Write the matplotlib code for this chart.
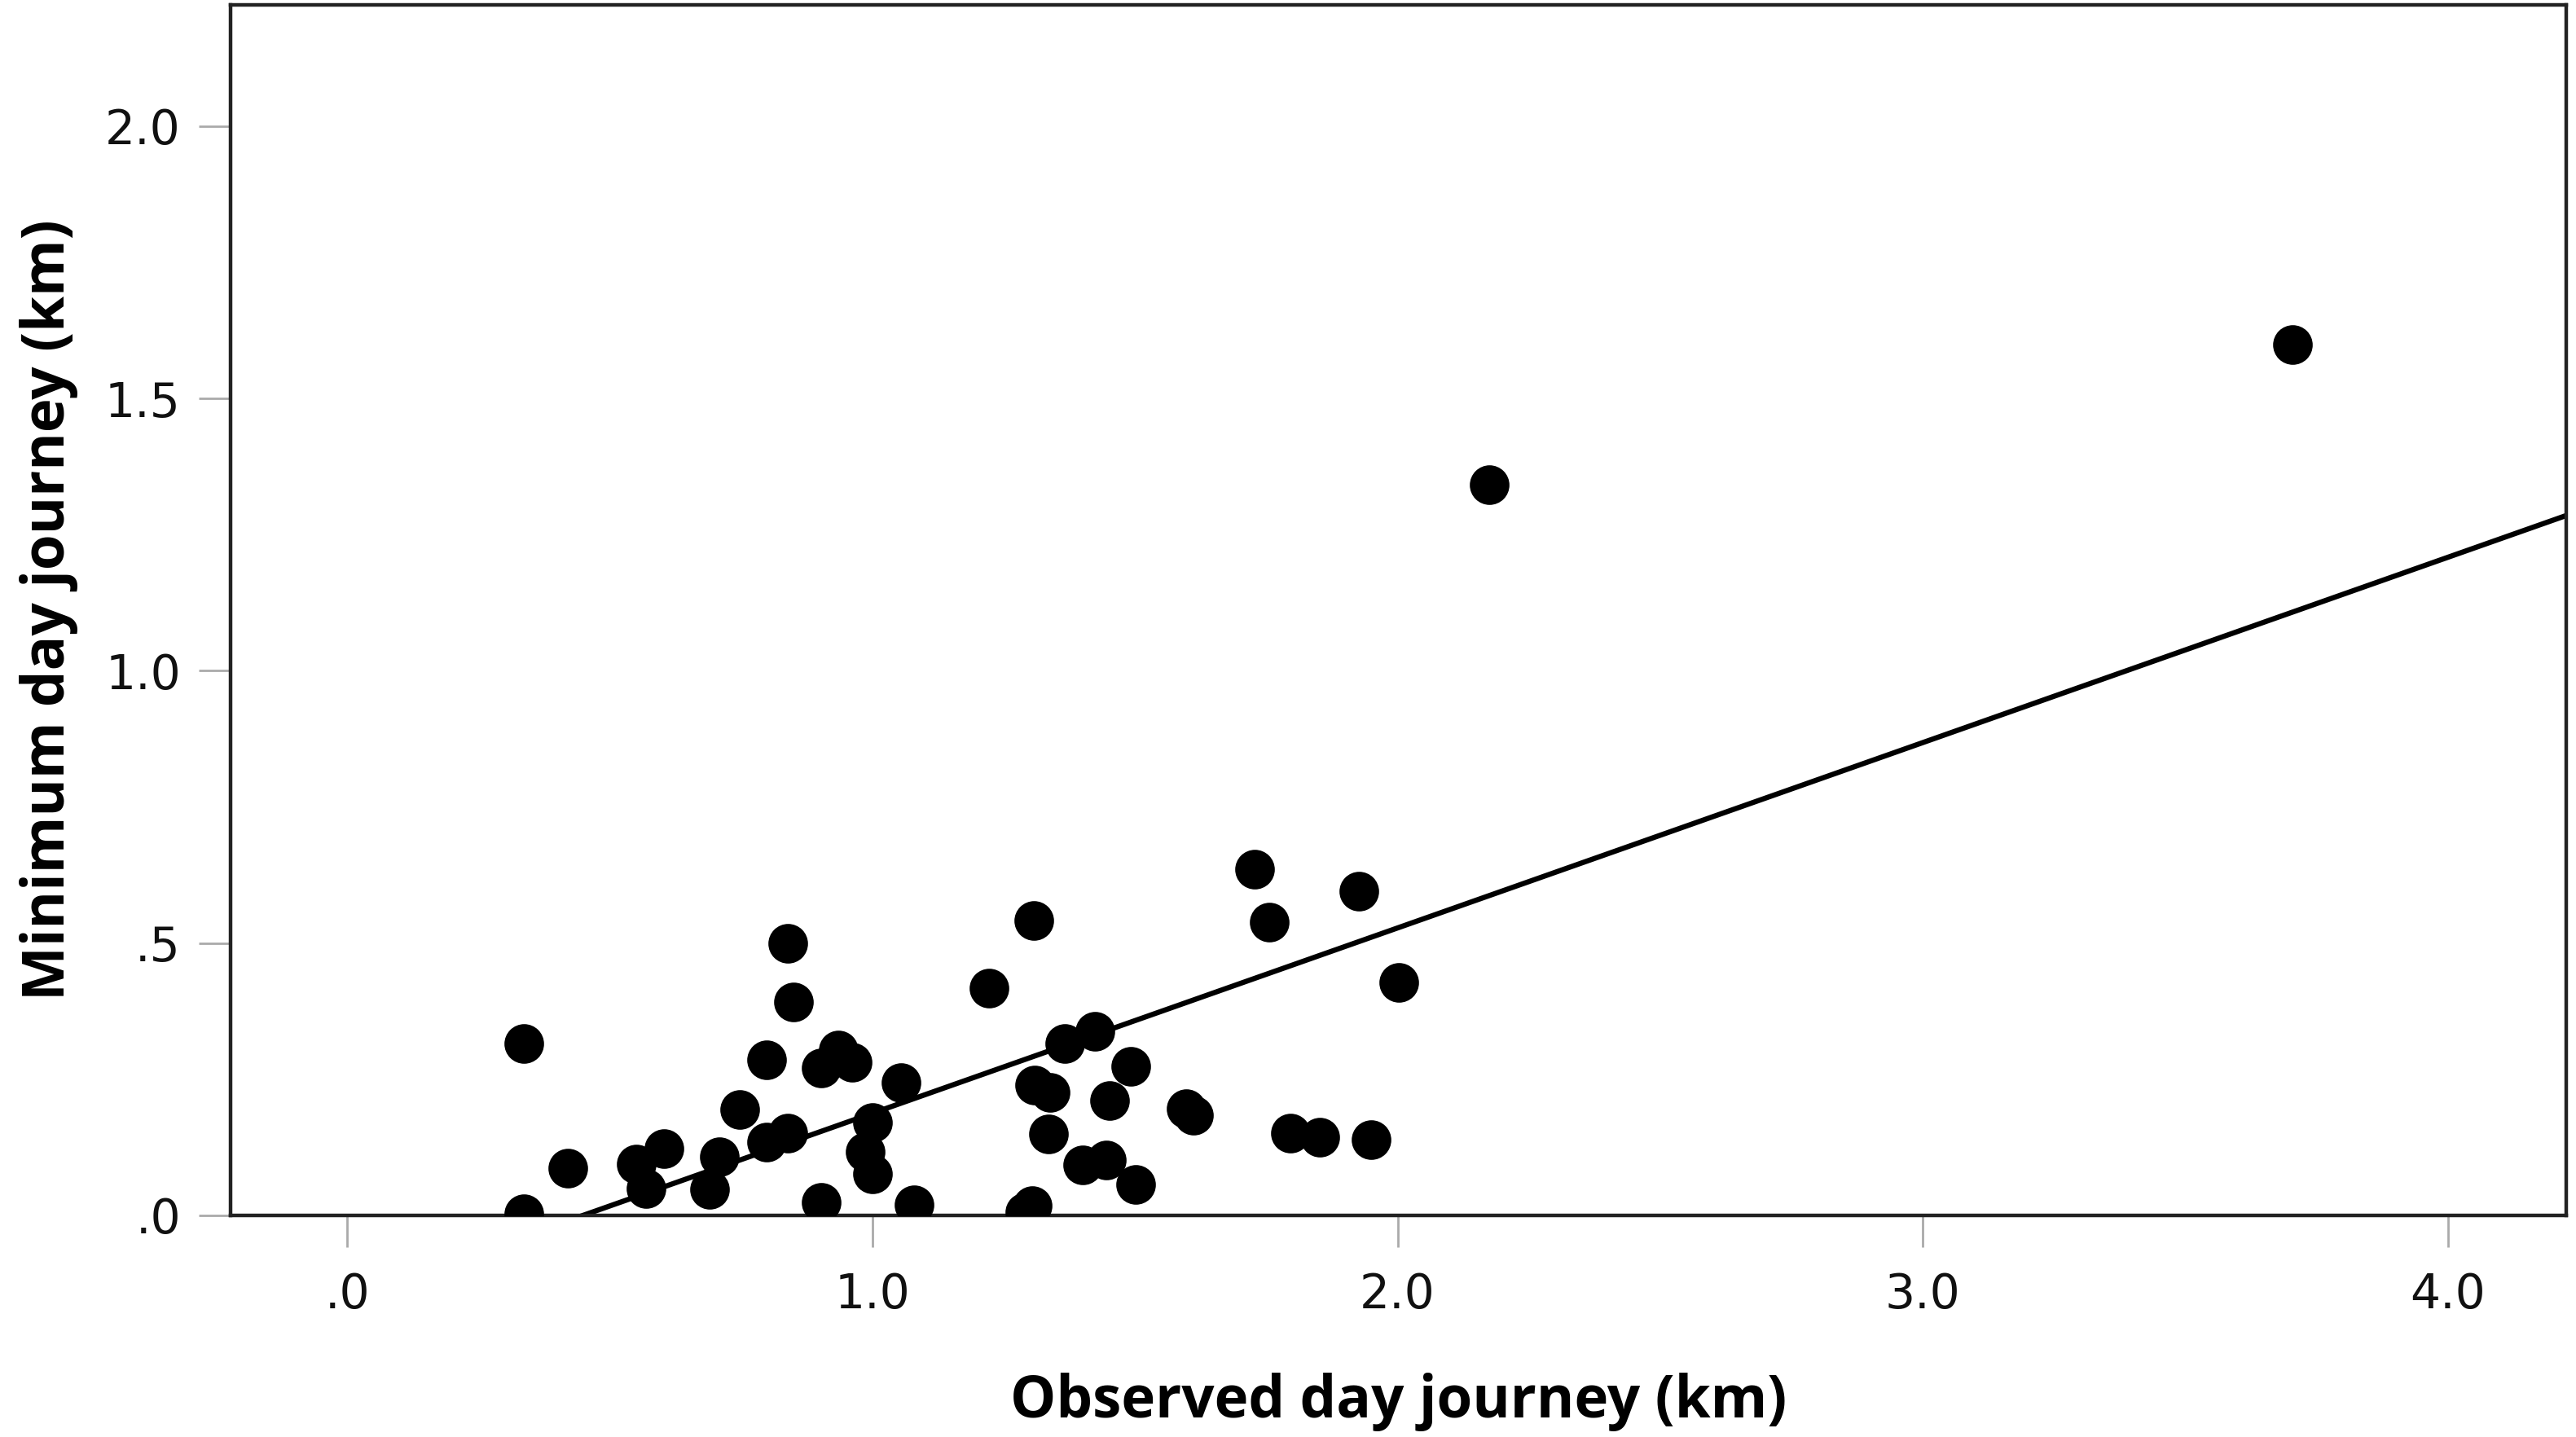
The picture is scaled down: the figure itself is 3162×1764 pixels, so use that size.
import matplotlib
matplotlib.use("Agg")
import matplotlib.pyplot as plt
import numpy as np

# Data
observed_km = [0.337, 0.337, 0.420, 0.550, 0.569, 0.603, 0.690, 0.709, 0.748, 0.799,
               0.799, 0.839, 0.839, 0.850, 0.902, 0.902, 0.935, 0.961, 0.986, 1.000,
               1.000, 1.055, 1.080, 1.222, 1.308, 1.309, 1.339, 1.336, 1.290, 1.305,
               1.367, 1.423, 1.492, 1.452, 1.401, 1.446, 1.501, 1.598, 1.612, 1.727,
               1.755, 1.927, 2.003, 1.796, 1.852, 1.950, 2.174, 3.704]
minimum_km = [0.316, 0.003, 0.087, 0.094, 0.049, 0.122, 0.048, 0.107, 0.194, 0.286,
              0.134, 0.500, 0.151, 0.392, 0.271, 0.024, 0.303, 0.281, 0.117, 0.171,
              0.077, 0.244, 0.019, 0.417, 0.541, 0.239, 0.226, 0.149, 0.006, 0.018,
              0.316, 0.338, 0.274, 0.211, 0.092, 0.102, 0.057, 0.196, 0.184, 0.635,
              0.539, 0.595, 0.428, 0.151, 0.144, 0.139, 1.341, 1.599]

fit_slope = 0.3403
fit_intercept = -0.1528

x_ticks = [0.0, 1.0, 2.0, 3.0, 4.0]
x_tick_labels = [".0", "1.0", "2.0", "3.0", "4.0"]
y_ticks = [0.0, 0.5, 1.0, 1.5, 2.0]
y_tick_labels = [".0", ".5", "1.0", "1.5", "2.0"]

x_label = "Observed day journey (km)"
y_label = "Minimum day journey (km)"

fig = plt.figure(figsize=(15.81, 8.82), dpi=200)
ax = fig.add_axes([0.0895, 0.1542, 0.9067, 0.8426])

xlim = (-0.222, 4.225)
ylim = (0.0, 2.223)
ax.set_xlim(*xlim)
ax.set_ylim(*ylim)

xs = np.array(xlim)
ax.plot(xs, fit_intercept + fit_slope * xs, color="black", lw=2.3, zorder=2)
ax.plot(observed_km, minimum_km, linestyle="none", marker="o", markersize=16.5,
        markerfacecolor="black", markeredgecolor="black", zorder=3)

ax.set_xticks(x_ticks)
ax.set_xticklabels(x_tick_labels)
ax.set_yticks(y_ticks)
ax.set_yticklabels(y_tick_labels)

for sp in ax.spines.values():
    sp.set_linewidth(1.6)
    sp.set_color("#222222")

ax.tick_params(axis="both", direction="out", length=14, width=1.0, color="#aaaaaa",
               labelsize=21, labelcolor="#111111")
ax.tick_params(axis="x", pad=11)
ax.tick_params(axis="y", pad=8)

ax.set_xlabel(x_label, fontsize=25.5, fontweight="bold", family="Open Sans", labelpad=24)
ax.set_ylabel(y_label, fontsize=25.5, fontweight="bold", family="Open Sans", labelpad=12)

fig.savefig("out.png", dpi=200, facecolor="white")
